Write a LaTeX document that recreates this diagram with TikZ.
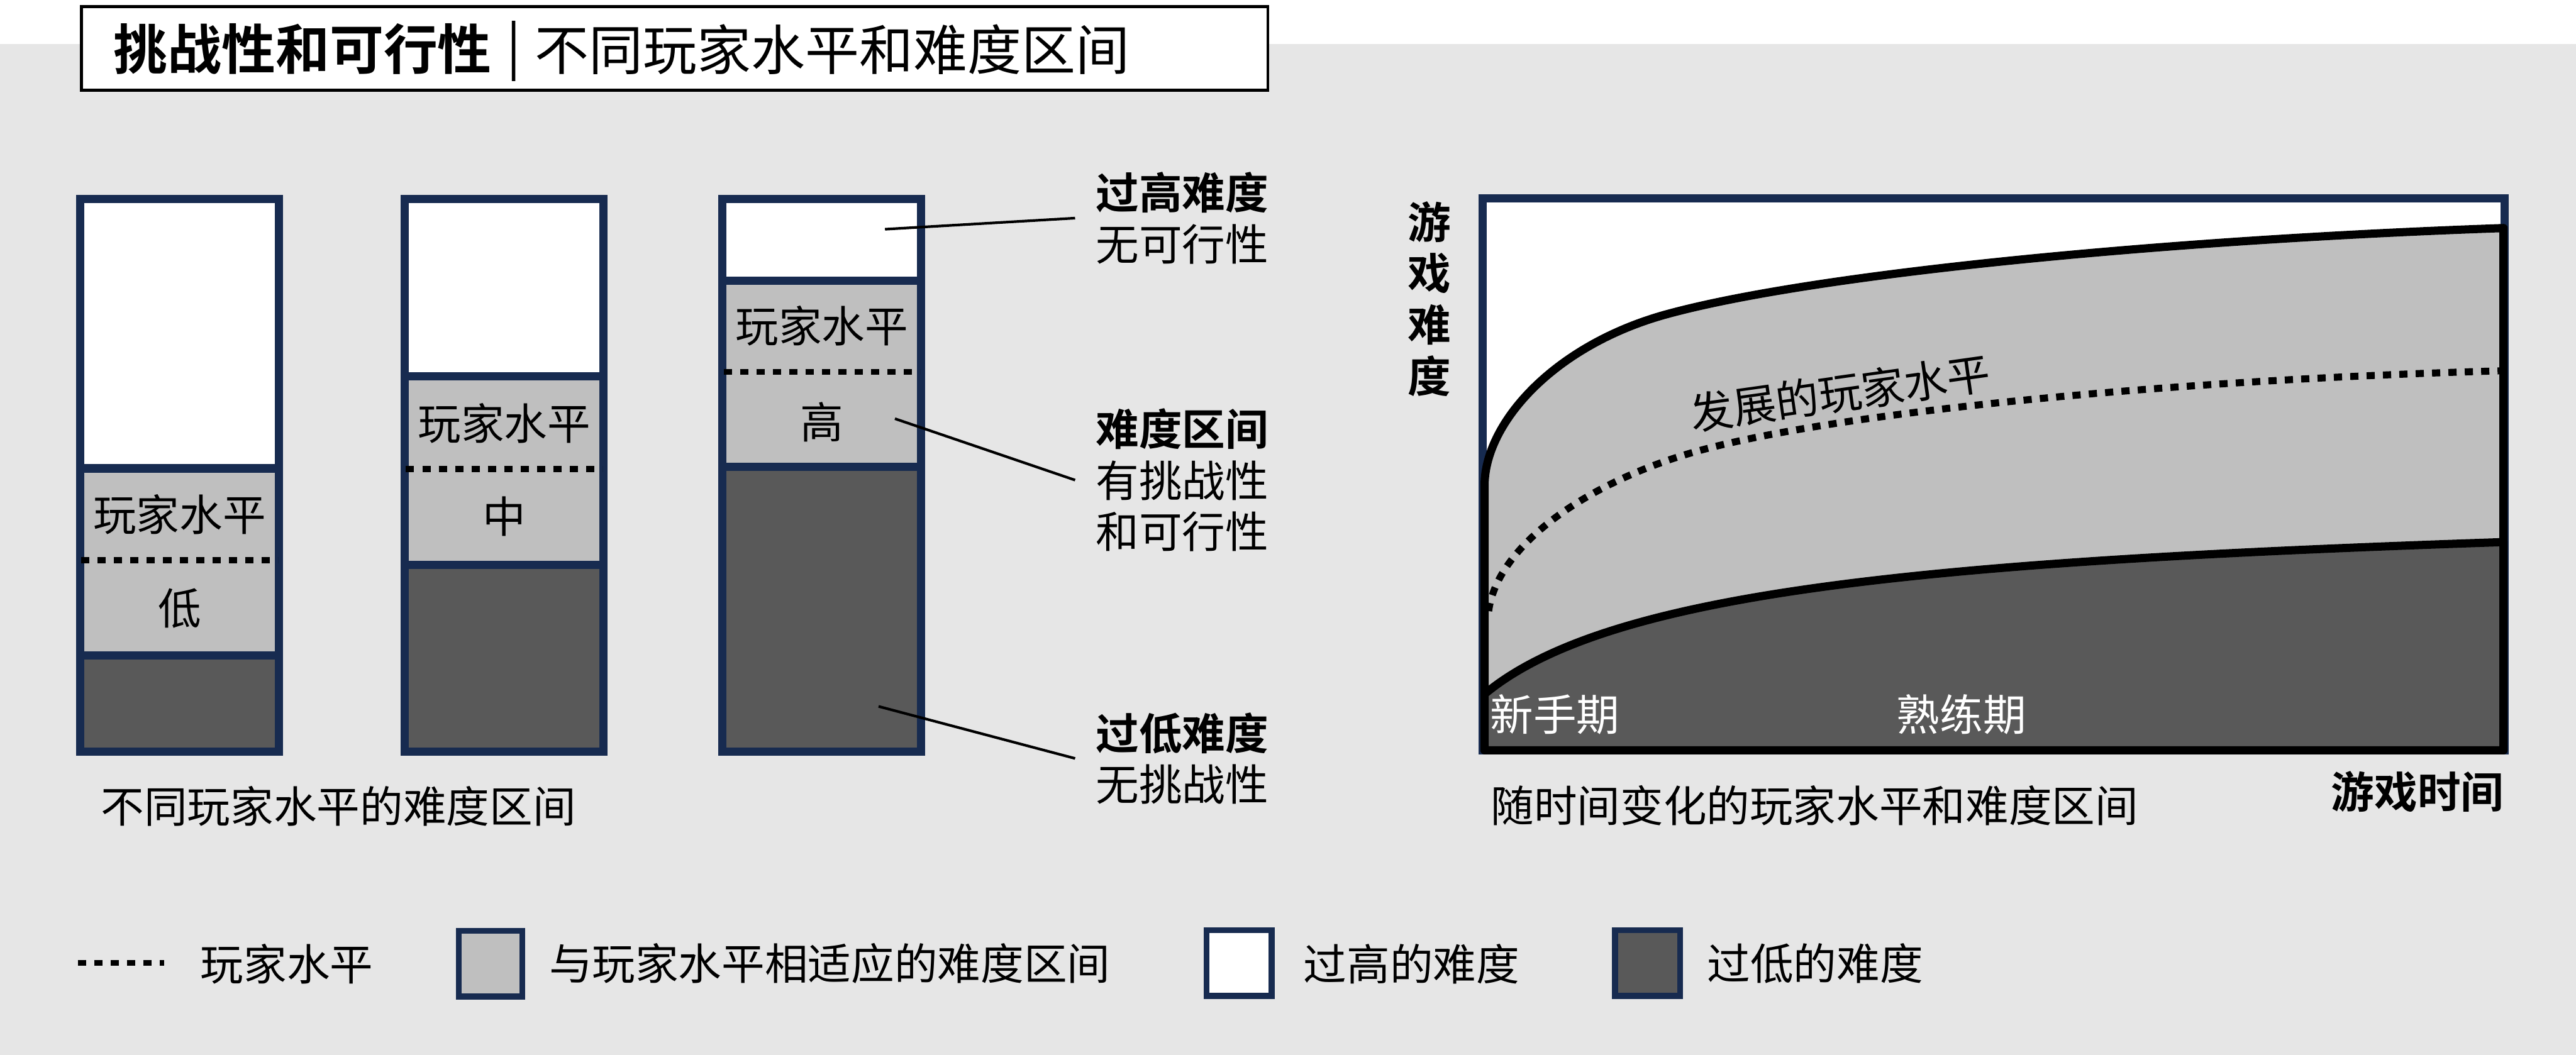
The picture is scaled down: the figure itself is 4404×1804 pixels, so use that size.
\documentclass[tikz,border=0pt]{standalone}
\usepackage{fontspec}
\setmainfont{Noto Sans CJK SC}[BoldFont={Noto Sans CJK SC Bold}]
\usetikzlibrary{positioning}

\definecolor{bggray}{HTML}{E6E6E6}
\definecolor{bandgray}{HTML}{BFBFBF}
\definecolor{lowgray}{HTML}{595959}
\definecolor{framenavy}{HTML}{172B50}

\newcommand{\lblsize}{\fontsize{21pt}{25pt}\selectfont}
\newcommand{\ttlsize}{\fontsize{26.3pt}{30pt}\selectfont}

\tikzset{
	barframe/.style={draw=framenavy, line width=1.4mm},
	leveldots/.style={line width=1mm, dash pattern=on 1.4mm off 1.4mm},
	curveline/.style={line width=1.4mm, line join=round},
	lbl/.style={inner sep=0pt, font=\lblsize},
	leader/.style={line width=0.45mm},
	keybox/.style={draw=framenavy, line width=1mm},
}

\begin{document}
\begin{tikzpicture}[x=0.1mm, y=-0.1mm]
			
			% page
			\useasboundingbox (0,0) rectangle (4404,1804);
			\fill[white] (0,0) rectangle (4404,75);
			\fill[bggray] (0,75) rectangle (4404,1804);
			
			% title
			\draw[fill=white, line width=0.5mm] (139.5,11.5) rectangle (2167.5,154.5);
			\node[inner sep=0pt, anchor=west, font=\bfseries\ttlsize] (ttlA) at (193,84) {挑战性和可行性};
			\node[inner sep=0pt, font=\ttlsize] (ttlB) at (879,88) {|};
			\node[inner sep=0pt, anchor=west, font=\ttlsize] (ttlC) at (914,84) {不同玩家水平和难度区间};
			
			% bar 1 (low level)
			\fill[white] (137,340) rectangle (477,801);
			\fill[bandgray] (137,801) rectangle (477,1121);
			\fill[lowgray] (137,1121) rectangle (477,1285);
			\draw[barframe] (137,801) -- (477,801);
			\draw[barframe] (137,1121) -- (477,1121);
			\draw[barframe] (137,340) rectangle (477,1285);
			\draw[leveldots] (139,958) -- (475,958);
			\node[lbl] (oneLvl) at (307,880) {玩家水平};
			\node[lbl] (oneTag) at (307,1040) {低};
			
			% bar 2 (middle level)
			\fill[white] (692,340) rectangle (1032,644);
			\fill[bandgray] (692,644) rectangle (1032,966);
			\fill[lowgray] (692,966) rectangle (1032,1285);
			\draw[barframe] (692,644) -- (1032,644);
			\draw[barframe] (692,966) -- (1032,966);
			\draw[barframe] (692,340) rectangle (1032,1285);
			\draw[leveldots] (694,802) -- (1030,802);
			\node[lbl] (twoLvl) at (862,724) {玩家水平};
			\node[lbl] (twoTag) at (862,883) {中};
			
			% bar 3 (high level)
			\fill[white] (1235,340) rectangle (1575,480);
			\fill[bandgray] (1235,480) rectangle (1575,798);
			\fill[lowgray] (1235,798) rectangle (1575,1285);
			\draw[barframe] (1235,480) -- (1575,480);
			\draw[barframe] (1235,798) -- (1575,798);
			\draw[barframe] (1235,340) rectangle (1575,1285);
			\draw[leveldots] (1237,636) -- (1573,636);
			\node[lbl] (threeLvl) at (1405,557) {玩家水平};
			\node[lbl] (threeTag) at (1405,722) {高};
			
			% notes and leaders
			\coordinate (hiPt) at (1513,392);
			\coordinate (midPt) at (1530,716);
			\coordinate (lowPt) at (1502,1208);
			\node[lbl, anchor=west, align=left, inner xsep=3.5mm] (hiNote) at (1838,373) {\textbf{过高难度}\\无可行性};
			\node[lbl, anchor=west, align=left, inner xsep=3.5mm] (midNote) at (1838,821) {\textbf{难度区间}\\有挑战性\\和可行性};
			\node[lbl, anchor=west, align=left, inner xsep=3.5mm] (lowNote) at (1838,1297) {\textbf{过低难度}\\无挑战性};
			\draw[leader] (hiPt) -- (hiNote.west);
			\draw[leader] (midPt) -- (midNote.west);
			\draw[leader] (lowPt) -- (lowNote.west);
			
			\node[lbl, anchor=west] (barsCap) at (172,1379) {不同玩家水平的难度区间};
			
			% chart frame
			\draw[fill=white, draw=framenavy, line width=1.4mm] (2535,339) rectangle (4282,1283);
			
			% band of fitting difficulty
			\draw[curveline, fill=bandgray] (2538,1283) -- (2538,828)
				.. controls (2540,720) and (2660,590) .. (2847,538)
				.. controls (3100,468) and (3700,410) .. (4280,390)
				-- (4280,1283) -- cycle;
			
			% too low difficulty
			\draw[curveline, fill=lowgray] (2538,1283) -- (2538,1187)
				.. controls (2750,1010) and (3300,960) .. (4280,927)
				-- (4280,1283) -- cycle;
			
			% growing player level
			\draw[leveldots, line width=1.2mm] (2545,1045)
				.. controls (2560,930) and (2720,820) .. (2911,769)
				.. controls (3150,705) and (3700,650) .. (4280,634);
			\node[lbl, rotate=8] (growLbl) at (3146,672) {发展的玩家水平};
			
			\node[lbl, anchor=west, text=white] (noviceLbl) at (2547,1222) {新手期};
			\node[lbl, anchor=west, text=white] (skillLbl) at (3242,1222) {熟练期};
			
			% axes
			\node[lbl, align=center, font=\lblsize\bfseries] (yAxis) at (2444,511) {游\\戏\\难\\度};
			\node[lbl, font=\lblsize\bfseries] (xAxis) at (4133,1354) {游戏时间};
			\node[lbl, anchor=west] (curveCap) at (2548,1377) {随时间变化的玩家水平和难度区间};
			
			% legend
			\draw[leveldots] (133,1647) -- (281,1647);
			\node[lbl, anchor=west] (keyDots) at (342,1648) {玩家水平};
			\draw[keybox, fill=bandgray] (784,1592) rectangle (893,1704);
			\node[lbl, anchor=west] (keyBand) at (938,1648) {与玩家水平相适应的难度区间};
			\draw[keybox, fill=white] (2063,1591) rectangle (2174,1703);
			\node[lbl, anchor=west] (keyHigh) at (2228,1648) {过高的难度};
			\draw[keybox, fill=lowgray] (2761,1591) rectangle (2872,1703);
			\node[lbl, anchor=west] (keyLow) at (2918,1648) {过低的难度};
			
		\end{tikzpicture}
\end{document}
